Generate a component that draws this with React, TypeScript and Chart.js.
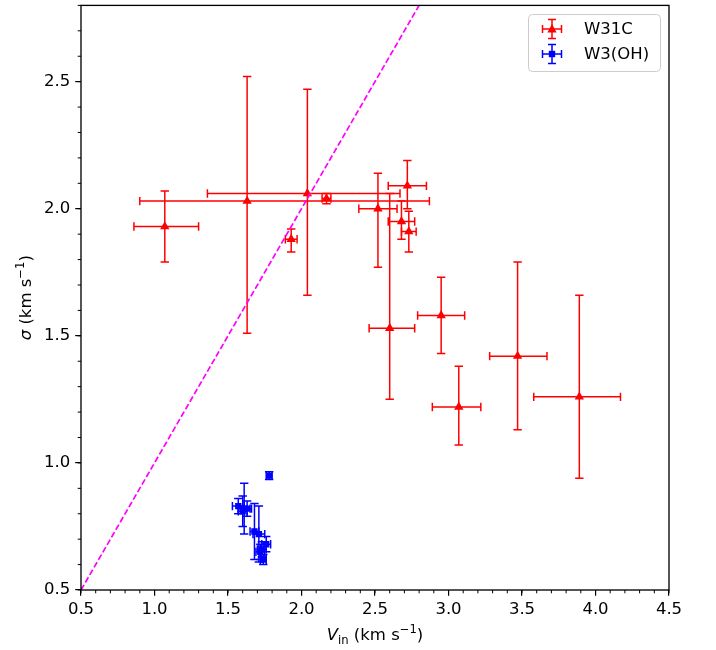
import React, { useEffect, useRef } from 'react';
import { Chart, registerables } from 'chart.js';

Chart.register(...registerables);

// ---------------- data ----------------
const W31C_V = [1.07, 1.63, 2.04, 2.17, 1.93, 2.52, 2.72, 2.68, 2.73, 2.60, 2.95, 3.07, 3.47, 3.89];
const W31C_SIGMA = [1.93, 2.03, 2.06, 2.04, 1.88, 2.00, 2.09, 1.95, 1.91, 1.53, 1.58, 1.22, 1.42, 1.26];
const W31C_V_ERR_LO = [0.21, 0.73, 0.68, 0.03, 0.04, 0.13, 0.13, 0.09, 0.05, 0.14, 0.16, 0.18, 0.19, 0.31];
const W31C_V_ERR_HI = [0.23, 1.24, 0.63, 0.03, 0.04, 0.13, 0.13, 0.09, 0.05, 0.17, 0.16, 0.15, 0.20, 0.28];
const W31C_SIGMA_ERR_LO = [0.14, 0.52, 0.40, 0.02, 0.05, 0.23, 0.09, 0.07, 0.08, 0.28, 0.15, 0.15, 0.29, 0.32];
const W31C_SIGMA_ERR_HI = [0.14, 0.49, 0.41, 0.02, 0.04, 0.14, 0.10, 0.08, 0.08, 0.53, 0.15, 0.16, 0.37, 0.40];

const W3OH_V = [1.78, 1.61, 1.60, 1.57, 1.63, 1.68, 1.71, 1.73, 1.76, 1.74, 1.72];
const W3OH_SIGMA = [0.95, 0.82, 0.81, 0.83, 0.82, 0.73, 0.72, 0.66, 0.68, 0.62, 0.65];
const W3OH_V_ERR = [0.02, 0.04, 0.03, 0.04, 0.03, 0.03, 0.04, 0.03, 0.03, 0.02, 0.03];
const W3OH_SIGMA_ERR = [0.015, 0.10, 0.06, 0.03, 0.03, 0.11, 0.11, 0.03, 0.03, 0.02, 0.03];

const LINE_X = [0.5, 4.5];
const LINE_Y = [0.5, 4.5];

const X_TICKS = [0.5, 1.0, 1.5, 2.0, 2.5, 3.0, 3.5, 4.0, 4.5];
const Y_TICKS = [0.5, 1.0, 1.5, 2.0, 2.5];
const MINOR_STEP = 0.1;

const SERIES_LABELS = ['W31C', 'W3(OH)'];
const RED = '#ff0000';
const BLUE = '#0000ff';
const MAGENTA = '#ff00ff';
const FONT = 'DejaVu Sans';
const FS = 16.5;
const SUB = 11.6;

type Part = { t: string; style?: string; size: number; dy: number };

const X_TITLE: Part[] = [
  { t: 'V', style: 'italic', size: FS, dy: 0 },
  { t: 'in', size: SUB, dy: 3.5 },
  { t: ' (km s', size: FS, dy: 0 },
  { t: '\u22121', size: SUB, dy: -7 },
  { t: ')', size: FS, dy: 0 },
];
const Y_TITLE: Part[] = [
  { t: '\u03c3', style: 'italic', size: FS, dy: 0 },
  { t: ' (km s', size: FS, dy: 0 },
  { t: '\u22121', size: SUB, dy: -7 },
  { t: ')', size: FS, dy: 0 },
];

function fontOf(p: Part) {
  return `${p.style ? p.style + ' ' : ''}${p.size}px "${FONT}"`;
}

function drawParts(ctx: CanvasRenderingContext2D, parts: Part[], cx: number, baseline: number) {
  let total = 0;
  for (const p of parts) {
    ctx.font = fontOf(p);
    total += ctx.measureText(p.t).width;
  }
  let x = cx - total / 2;
  ctx.textAlign = 'left';
  ctx.textBaseline = 'alphabetic';
  for (const p of parts) {
    ctx.font = fontOf(p);
    ctx.fillText(p.t, x, baseline + p.dy);
    x += ctx.measureText(p.t).width;
  }
}

function drawErr(
  ctx: CanvasRenderingContext2D,
  px: number, py: number,
  x1: number, x2: number, y1: number, y2: number,
  cap: number
) {
  ctx.beginPath();
  ctx.moveTo(x1, py); ctx.lineTo(x2, py);
  ctx.moveTo(px, y1); ctx.lineTo(px, y2);
  ctx.moveTo(x1, py - cap); ctx.lineTo(x1, py + cap);
  ctx.moveTo(x2, py - cap); ctx.lineTo(x2, py + cap);
  ctx.moveTo(px - cap, y1); ctx.lineTo(px + cap, y1);
  ctx.moveTo(px - cap, y2); ctx.lineTo(px + cap, y2);
  ctx.stroke();
}

const errorBarPlugin = {
  id: 'errorBars',
  beforeDatasetsDraw(chart: any) {
    const { ctx, chartArea, scales } = chart;
    const xs = scales.x, ys = scales.y;
    ctx.save();
    ctx.beginPath();
    ctx.rect(chartArea.left, chartArea.top, chartArea.right - chartArea.left, chartArea.bottom - chartArea.top);
    ctx.clip();
    ctx.lineWidth = 1.5;
    ctx.strokeStyle = RED;
    W31C_V.forEach((v, i) => {
      const s = W31C_SIGMA[i];
      drawErr(ctx,
        xs.getPixelForValue(v), ys.getPixelForValue(s),
        xs.getPixelForValue(v - W31C_V_ERR_LO[i]), xs.getPixelForValue(v + W31C_V_ERR_HI[i]),
        ys.getPixelForValue(s + W31C_SIGMA_ERR_HI[i]), ys.getPixelForValue(s - W31C_SIGMA_ERR_LO[i]),
        4.2);
    });
    ctx.strokeStyle = BLUE;
    W3OH_V.forEach((v, i) => {
      const s = W3OH_SIGMA[i];
      drawErr(ctx,
        xs.getPixelForValue(v), ys.getPixelForValue(s),
        xs.getPixelForValue(v - W3OH_V_ERR[i]), xs.getPixelForValue(v + W3OH_V_ERR[i]),
        ys.getPixelForValue(s + W3OH_SIGMA_ERR[i]), ys.getPixelForValue(s - W3OH_SIGMA_ERR[i]),
        4.2);
    });
    ctx.restore();
  },
  afterDraw(chart: any) {
    const { ctx, chartArea, scales } = chart;
    const xs = scales.x, ys = scales.y;
    ctx.save();
    // frame
    ctx.strokeStyle = '#000';
    ctx.lineWidth = 1.33;
    ctx.strokeRect(chartArea.left, chartArea.top, chartArea.right - chartArea.left, chartArea.bottom - chartArea.top);

    // minor ticks
    ctx.lineWidth = 1;
    ctx.beginPath();
    for (let v = xs.min; v <= xs.max + 1e-9; v += MINOR_STEP) {
      const px = xs.getPixelForValue(v);
      ctx.moveTo(px, chartArea.bottom);
      ctx.lineTo(px, chartArea.bottom + 3.3);
    }
    for (let v = ys.min; v <= ys.max + 1e-9; v += MINOR_STEP) {
      const py = ys.getPixelForValue(v);
      ctx.moveTo(chartArea.left, py);
      ctx.lineTo(chartArea.left - 3.3, py);
    }
    ctx.stroke();

    // axis titles
    ctx.fillStyle = '#000';
    drawParts(ctx, X_TITLE, (chartArea.left + chartArea.right) / 2, 640);
    ctx.save();
    ctx.translate(31, (chartArea.top + chartArea.bottom) / 2);
    ctx.rotate(-Math.PI / 2);
    drawParts(ctx, Y_TITLE, 0, 0);
    ctx.restore();

    // legend
    const bx = 528.5, by = 14.5, bw = 132, bh = 57, r = 4;
    ctx.beginPath();
    ctx.moveTo(bx + r, by);
    ctx.lineTo(bx + bw - r, by);
    ctx.quadraticCurveTo(bx + bw, by, bx + bw, by + r);
    ctx.lineTo(bx + bw, by + bh - r);
    ctx.quadraticCurveTo(bx + bw, by + bh, bx + bw - r, by + bh);
    ctx.lineTo(bx + r, by + bh);
    ctx.quadraticCurveTo(bx, by + bh, bx, by + bh - r);
    ctx.lineTo(bx, by + r);
    ctx.quadraticCurveTo(bx, by, bx + r, by);
    ctx.closePath();
    ctx.fillStyle = 'rgba(255,255,255,0.8)';
    ctx.fill();
    ctx.strokeStyle = '#cccccc';
    ctx.lineWidth = 1;
    ctx.stroke();

    const entries = [
      { label: SERIES_LABELS[0], color: RED, y: 29, marker: 'tri' },
      { label: SERIES_LABELS[1], color: BLUE, y: 54, marker: 'sq' },
    ];
    const hx = 552;
    for (const e of entries) {
      ctx.strokeStyle = e.color;
      ctx.fillStyle = e.color;
      ctx.lineWidth = 1.5;
      drawErr(ctx, hx, e.y, hx - 9.5, hx + 9.5, e.y - 9.5, e.y + 9.5, 4);
      ctx.beginPath();
      if (e.marker === 'tri') {
        ctx.moveTo(hx, e.y - 5);
        ctx.lineTo(hx - 4.6, e.y + 3.5);
        ctx.lineTo(hx + 4.6, e.y + 3.5);
        ctx.closePath();
      } else {
        ctx.rect(hx - 3.2, e.y - 3.2, 6.4, 6.4);
      }
      ctx.fill();
      ctx.fillStyle = '#000';
      ctx.font = `${FS}px "${FONT}"`;
      ctx.textAlign = 'left';
      ctx.textBaseline = 'middle';
      ctx.fillText(e.label, 584, e.y + 1);
    }
    ctx.restore();
  },
};

export default function App() {
  const ref = useRef<HTMLCanvasElement>(null);

  useEffect(() => {
    if (!ref.current) return;
    const tickFont = { family: FONT, size: FS };
    const chart = new Chart(ref.current, {
      type: 'scatter',
      data: {
        datasets: [
          {
            type: 'line',
            label: 'y=x',
            data: LINE_X.map((x, i) => ({ x, y: LINE_Y[i] })),
            borderColor: MAGENTA,
            borderWidth: 1.7,
            borderDash: [6, 2.7],
            pointRadius: 0,
            fill: false,
          } as any,
          {
            label: SERIES_LABELS[0],
            data: W31C_V.map((x, i) => ({ x, y: W31C_SIGMA[i] })),
            pointStyle: 'triangle',
            pointRadius: 5.4,
            backgroundColor: RED,
            borderColor: RED,
            borderWidth: 0,
          },
          {
            label: SERIES_LABELS[1],
            data: W3OH_V.map((x, i) => ({ x, y: W3OH_SIGMA[i] })),
            pointStyle: 'rect',
            pointRadius: 4.5,
            backgroundColor: BLUE,
            borderColor: BLUE,
            borderWidth: 0,
          },
        ],
      },
      options: {
        responsive: false,
        animation: false,
        events: [],
        layout: { padding: { top: 5, right: 47, left: 0, bottom: 0 } },
        plugins: { legend: { display: false }, tooltip: { enabled: false }, title: { display: false } },
        scales: {
          x: {
            type: 'linear',
            min: 0.5,
            max: 4.5,
            afterBuildTicks: (s: any) => { s.ticks = X_TICKS.map((value) => ({ value })); },
            afterFit: (s: any) => { s.height = 60; s.paddingLeft = 0; s.paddingRight = 0; },
            grid: { drawOnChartArea: false, drawTicks: true, tickLength: 5.8, color: '#000', lineWidth: 1.2 },
            border: { display: false },
            ticks: {
              color: '#000', font: tickFont, padding: 4, maxRotation: 0, autoSkip: false,
              callback: (v: any) => Number(v).toFixed(1),
            },
          },
          y: {
            type: 'linear',
            min: 0.5,
            max: 2.8,
            afterBuildTicks: (s: any) => { s.ticks = Y_TICKS.map((value) => ({ value })); },
            afterFit: (s: any) => { s.width = 81; s.paddingTop = 0; s.paddingBottom = 0; },
            grid: { drawOnChartArea: false, drawTicks: true, tickLength: 5.8, color: '#000', lineWidth: 1.2 },
            border: { display: false },
            ticks: {
              color: '#000', font: tickFont, padding: 5, autoSkip: false,
              callback: (v: any) => Number(v).toFixed(1),
            },
          },
        },
      },
      plugins: [errorBarPlugin],
    });
    return () => chart.destroy();
  }, []);

  return (
    <div style={{ position: 'absolute', left: 0, top: 0, width: 716, height: 650, background: '#fff' }}>
      <canvas ref={ref} width={716} height={650} />
    </div>
  );
}
